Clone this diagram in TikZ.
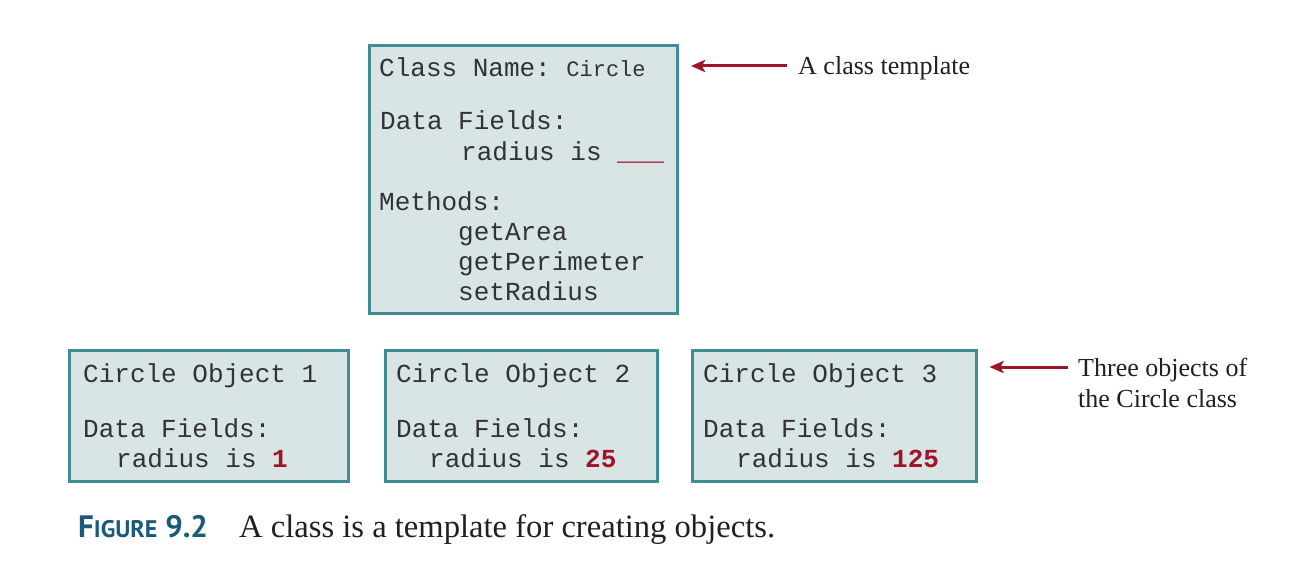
\documentclass[tikz,border=0pt]{standalone}
\usepackage{fontspec}
\setmainfont{Liberation Serif}
\setmonofont{Liberation Mono}
\newfontfamily\capfont{PT Sans}
\usetikzlibrary{arrows.meta,calc}

\definecolor{boxline}{RGB}{66,140,152}
\definecolor{boxfill}{RGB}{217,228,228}
\definecolor{accent}{RGB}{160,20,40}
\definecolor{ink}{RGB}{35,31,32}
\definecolor{codeink}{RGB}{50,50,50}
\definecolor{figblue}{RGB}{26,90,122}

\tikzset{
  box/.style={draw=boxline, fill=boxfill, line width=3pt, inner sep=0pt},
  code/.style={anchor=base west, inner sep=0pt, text=codeink,
    font=\ttfamily\fontsize{26}{30}\selectfont},
  note/.style={anchor=base west, inner sep=0pt, text=ink, align=left,
    font=\rmfamily\fontsize{26}{30.5}\selectfont},
  pointer/.style={draw=accent, line width=3pt,
    -{Stealth[length=14pt,width=12pt,inset=3pt]}},
}
\newcommand{\val}[1]{\textcolor{accent}{\bfseries #1}}

\begin{document}
\begin{tikzpicture}[x=1pt,y=-1pt]
\useasboundingbox (0,0) rectangle (1308,583);

% class template box
\node[box, minimum width=308pt, minimum height=267pt] (cls) at (523.5,179.5) {};
\node[code] (cname) at (379,77) {Class Name: {\fontsize{22}{26}\selectfont Circle}};
\node[code] (cfields) at (380,129) {Data Fields:};
\node[code] (cradius) at (461,160) {radius is \textcolor{accent}{\_\_\_}};
\node[code] (cmeth) at (379,210) {Methods:};
\node[code] (m1) at (458,240) {getArea};
\node[code] (m2) at (458,270) {getPerimeter};
\node[code] (m3) at (458,300) {setRadius};

% object boxes
\node[box, minimum width=279pt, minimum height=131pt] (o1) at (208.5,415.5) {};
\node[box, minimum width=272pt, minimum height=131pt] (o2) at (521,415.5) {};
\node[box, minimum width=284pt, minimum height=131pt] (o3) at (834,415.5) {};

\node[code] (o1name) at (83,382) {Circle Object 1};
\node[code] (o1df) at (83,437) {Data Fields:};
\node[code] (o1r) at (116,467) {radius is \val{1}};

\node[code] (o2name) at (396,382) {Circle Object 2};
\node[code] (o2df) at (396,437) {Data Fields:};
\node[code] (o2r) at (429,467) {radius is \val{25}};

\node[code] (o3name) at (703,382) {Circle Object 3};
\node[code] (o3df) at (703,437) {Data Fields:};
\node[code] (o3r) at (736,467) {radius is \val{125}};

% annotations (base of a two-line note is its last line)
\node[note] (tmpl) at (798,75) {A class template};
\node[note] (objs) at (1078,407) {Three objects of\\the Circle class};

\coordinate (p1s) at (787,66);
\coordinate (p1e) at ($(cls.east |- p1s)+(12,0)$);
\draw[pointer] (p1s) -- (p1e);

\coordinate (p2s) at (1068,367);
\coordinate (p2e) at ($(o3.east |- p2s)+(12,0)$);
\draw[pointer] (p2s) -- (p2e);

% caption
\node[anchor=base west, inner sep=0pt, text=figblue] (figno) at (78,537)
  {\capfont\bfseries\fontsize{31}{31}\selectfont F{\fontsize{24}{24}\selectfont IGURE} 9.2};
\node[anchor=base west, inner sep=0pt, text=ink,
  font=\rmfamily\fontsize{32.6}{36}\selectfont] (figtxt) at (239,537)
  {A class is a template for creating objects.};
\end{tikzpicture}
\end{document}
